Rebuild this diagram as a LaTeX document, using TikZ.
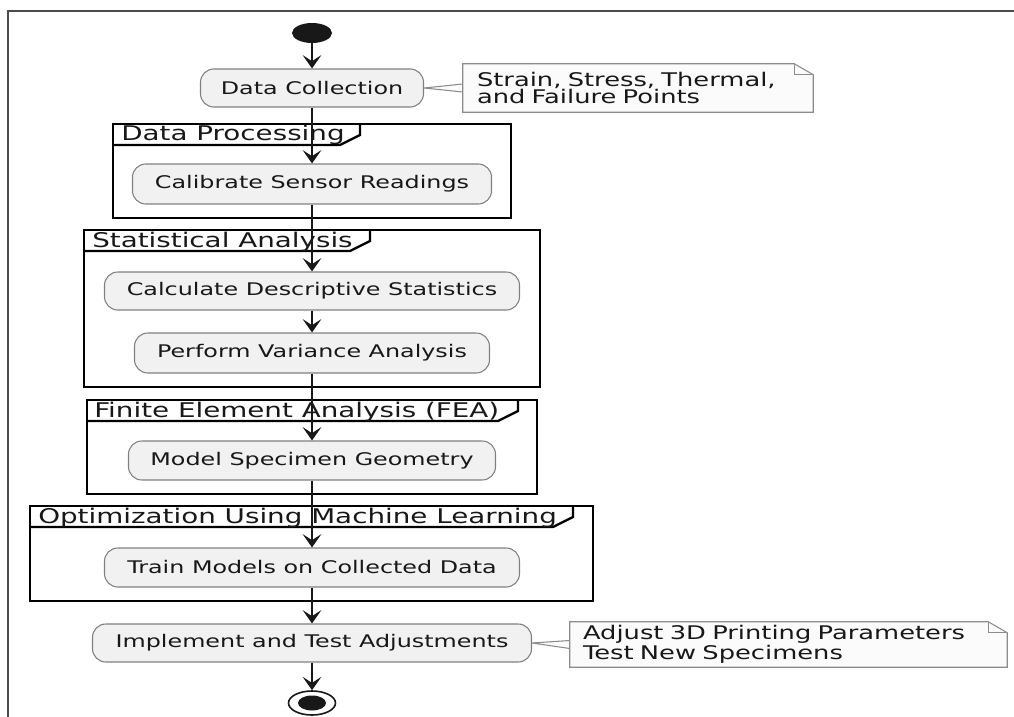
\documentclass[tikz,border=0pt]{standalone}
\usepackage{fontspec}
\setmainfont{DejaVu Sans}
\newfontfamily\actfont{DejaVu Sans}[FakeStretch=1.37]
\usetikzlibrary{arrows.meta,shapes.geometric,calc,backgrounds}
\definecolor{actfill}{HTML}{F1F1F1}
\definecolor{ink}{HTML}{181818}
\definecolor{notefill}{HTML}{FBFBFB}
\begin{document}
\begin{tikzpicture}[x=0.75pt,y=-0.75pt,
  act/.style={draw=black!50, line width=0.8pt, fill=actfill, rounded corners=10pt,
    inner sep=0pt, font=\actfont\fontsize{13.05}{15}\selectfont, text=ink},
  flow/.style={draw=ink, line width=1.3pt, -{Stealth[length=10pt,width=14pt,inset=4.5pt]}},
  frm/.style={draw=black, line width=1.8pt},
  flabel/.style={anchor=base west, inner sep=0pt, font=\actfont\fontsize{15.2}{17}\selectfont, text=ink},
  notebox/.style={inner ysep=0pt, align=left, font=\actfont\fontsize{14.1}{12.75}\selectfont, text=ink},
  noteline/.style={draw=black!45, line width=0.8pt, fill=notefill},
]
\useasboundingbox (0,0) rectangle (1014,717);
% outer frame
\draw[draw=black!70, line width=1.2pt] (1014,11) -- (8,11) -- (8,717);

% frames
\draw[frm] (113,124) rectangle (511,218);
\draw[frm] (113,145) -- (340,145) -- (360,135) -- (360,124);
\node[flabel] (lDP) at (121,141) {Data Processing};

\draw[frm] (84,230) rectangle (540,387);
\draw[frm] (84,251) -- (350,251) -- (370,241) -- (370,230);
\node[flabel] (lSA) at (92,247) {Statistical Analysis};

\draw[frm] (87,400) rectangle (537,494);
\draw[frm] (87,421) -- (498,421) -- (518,411) -- (518,400);
\node[flabel] (lFEA) at (94,417) {Finite Element Analysis (FEA)};

\draw[frm] (30,506) rectangle (593,601);
\draw[frm] (30,527) -- (553,527) -- (573,517) -- (573,506);
\node[flabel] (lOPT) at (38,523) {Optimization Using Machine Learning};

% start / end
\node[ellipse, fill=ink, minimum width=40*0.75pt, minimum height=20*0.75pt, inner sep=0pt] (start) at (312,33) {};

% activities
\node[act, minimum width=223*0.75pt, minimum height=38*0.75pt] (dc) at (312,88) {Data Collection};
\node[act, minimum width=359*0.75pt, minimum height=40*0.75pt] (cal) at (312,184) {Calibrate Sensor Readings};
\node[act, minimum width=415*0.75pt, minimum height=38*0.75pt] (calc) at (312,291) {Calculate Descriptive Statistics};
\node[act, minimum width=355*0.75pt, minimum height=40*0.75pt] (var) at (312,353) {Perform Variance Analysis};
\node[act, minimum width=367*0.75pt, minimum height=39*0.75pt] (geo) at (312,460.5) {Model Specimen Geometry};
\node[act, minimum width=415*0.75pt, minimum height=39*0.75pt] (train) at (312,567.5) {Train Models on Collected Data};
\node[act, minimum width=439*0.75pt, minimum height=38*0.75pt] (impl) at (312,643) {Implement and Test Adjustments};

\node[ellipse, draw=ink, line width=1.2pt, fill=white, minimum width=47*0.75pt, minimum height=24*0.75pt, inner sep=0pt] (end) at (312,703) {};
\fill[ink] (end.center) ellipse [x radius=14, y radius=7.5];

% notes
\node[notebox, text width=322*0.75pt, inner xsep=14*0.75pt, minimum height=48*0.75pt] (n1) at (638,88) {Strain, Stress, Thermal,\\and Failure Points};
\node[notebox, text width=411*0.75pt, inner xsep=13*0.75pt, minimum height=45*0.75pt] (n2) at (788.5,644.5) {Adjust 3D Printing Parameters\\Test New Specimens};

\begin{pgfonlayer}{background}
\draw[noteline] (dc.east) -- ($(n1.west)+(0,-4)$) -- ($(n1.west)+(0,4)$) -- cycle;
\draw[noteline] (n1.north west) -- ($(n1.north east)+(-19,0)$) -- ($(n1.north east)+(0,11)$) -- (n1.south east) -- (n1.south west) -- cycle;
\draw[noteline, fill=none] ($(n1.north east)+(-19,0)$) -- ($(n1.north east)+(-19,11)$) -- ($(n1.north east)+(0,11)$);
\draw[noteline] (impl.east) -- ($(n2.west)+(0,-4)$) -- ($(n2.west)+(0,4)$) -- cycle;
\draw[noteline] (n2.north west) -- ($(n2.north east)+(-19,0)$) -- ($(n2.north east)+(0,11)$) -- (n2.south east) -- (n2.south west) -- cycle;
\draw[noteline, fill=none] ($(n2.north east)+(-19,0)$) -- ($(n2.north east)+(-19,11)$) -- ($(n2.north east)+(0,11)$);
\end{pgfonlayer}

% flow
\draw[flow] (start) -- (dc);
\draw[flow] (dc) -- (cal);
\draw[flow] (cal) -- (calc);
\draw[flow] (calc) -- (var);
\draw[flow] (var) -- (geo);
\draw[flow] (geo) -- (train);
\draw[flow] (train) -- (impl);
\draw[flow] (impl) -- (end);
\end{tikzpicture}
\end{document}
